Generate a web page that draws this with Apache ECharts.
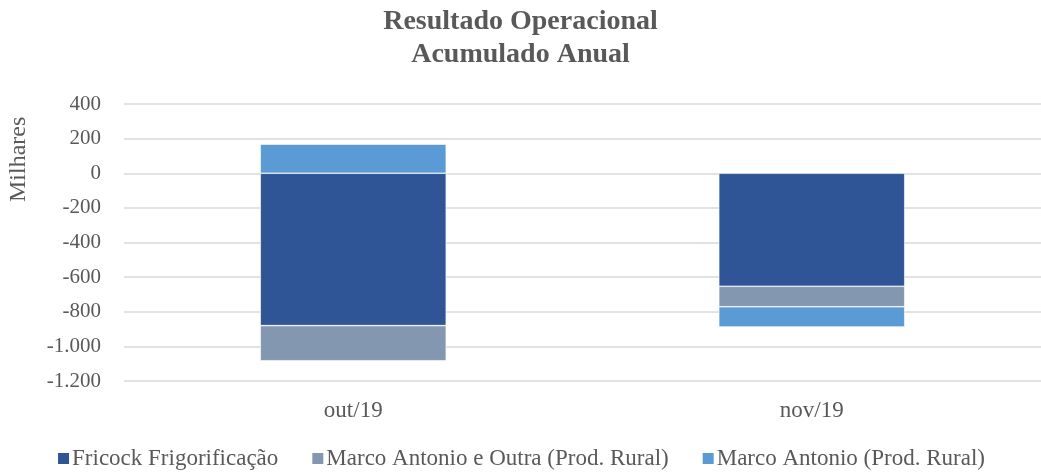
<!DOCTYPE html>
<html>
<head>
<meta charset="utf-8">
<script src="https://cdn.jsdelivr.net/npm/echarts@6/dist/echarts.min.js"></script>
<style>
  html, body { margin: 0; padding: 0; background: #fff; }
  #chart { width: 1041px; height: 475px; }
</style>
</head>
<body>
<div id="chart"></div>
<script>
const categories = ['out/19', 'nov/19'];
const fricock = [-880, -653];
const marcoOutra = [-203, -118];
const marcoAntonio = [168, -117];
const seriesNames = ['Fricock Frigorificação', 'Marco Antonio e Outra (Prod. Rural)', 'Marco Antonio (Prod. Rural)'];

const chart = echarts.init(document.getElementById('chart'));
const font = 'Liberation Serif';
const grey = '#595959';

const fmt = (v) => {
  const s = Math.abs(v).toString().replace(/\B(?=(\d{3})+(?!\d))/g, '.');
  return (v < 0 ? '-' : '') + s;
};

const bar = (name, data, color) => ({
  name: name,
  type: 'bar',
  stack: 'total',
  data: data,
  barWidth: 186,
  itemStyle: { color: color, borderColor: '#fff', borderWidth: 0.6 }
});

const option = {
  animation: false,
  title: {
    text: 'Resultado Operacional\nAcumulado Anual',
    left: 'center',
    top: 0,
    textStyle: { fontFamily: font, fontWeight: 'bold', fontSize: 28, color: grey, lineHeight: 33 }
  },
  graphic: [{
    type: 'text',
    x: 7, y: 202,
    rotation: Math.PI / 2,
    style: { text: 'Milhares', font: '24px "Liberation Serif"', fill: grey }
  }],
  legend: {
    bottom: 0,
    left: 'center',
    icon: 'rect',
    itemWidth: 13,
    itemHeight: 13,
    itemGap: 32,
    textStyle: { fontFamily: font, fontSize: 23, color: grey, padding: [0, 0, 0, -3] },
    data: seriesNames
  },
  grid: { left: 124, right: -8, top: 104, bottom: 94 },
  xAxis: {
    type: 'category',
    data: categories,
    axisLine: { show: false },
    axisTick: { show: false },
    axisLabel: { fontFamily: font, fontSize: 23, color: grey, margin: 18 }
  },
  yAxis: {
    type: 'value',
    min: -1200,
    max: 400,
    interval: 200,
    axisLabel: { fontFamily: font, fontSize: 21, color: grey, margin: 23, formatter: fmt },
    splitLine: { lineStyle: { color: '#d9d9d9', width: 1.5 } }
  },
  series: [
    bar(seriesNames[0], fricock, '#2F5597'),
    bar(seriesNames[1], marcoOutra, '#8497B0'),
    bar(seriesNames[2], marcoAntonio, '#5B9BD5')
  ]
};
chart.setOption(option);
</script>
</body>
</html>
